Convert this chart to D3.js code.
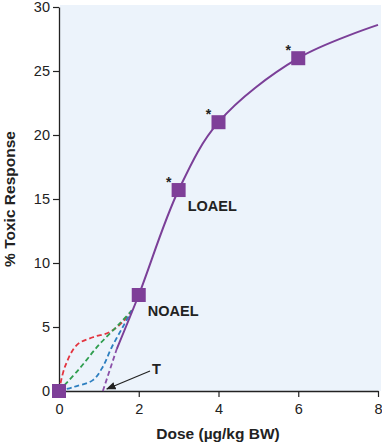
<!DOCTYPE html>
<html><head><meta charset="utf-8">
<script src="https://cdn.jsdelivr.net/npm/d3@7"></script>
<style>body{margin:0;background:#fff;} text{font-family:"Liberation Sans",Arial,sans-serif;}</style>
</head><body><svg id="c" width="382" height="443"></svg>
<script>
// Data
const doses = [0, 2, 3, 4, 6];
const responses = [0, 7.5, 15.7, 21, 26];
const significant = [false, false, true, true, true];
const curveX = [1.45, 2, 3, 4, 6, 8];
const curveY = [3.3, 7.5, 15.7, 21, 26, 28.6];
const thresholdX = [1.1, 1.45];
const thresholdY = [0, 3.3];
const redX = [0, 0.15, 0.45, 0.85, 1.27, 1.6, 1.83];
const redY = [0, 1.9, 3.6, 4.2, 4.6, 5.4, 6.3];
const greenX = [0, 0.5, 1.0, 1.5, 1.83];
const greenY = [0, 1.7, 3.6, 5.2, 6.3];
const blueX = [0, 0.35, 0.85, 1.1, 1.32, 1.6, 1.83];
const blueY = [0, 0.3, 0.85, 1.9, 3.4, 5.0, 6.3];
const xTicks = [0, 2, 4, 6, 8];
const yTicks = [0, 5, 10, 15, 20, 25, 30];
const labels = [{t:"NOAEL", x:2, y:7.5}, {t:"LOAEL", x:3, y:15.7}];

const svg = d3.select("#c");
const x = d3.scaleLinear().domain([0, 8]).range([59, 378]);
const y = d3.scaleLinear().domain([0, 30]).range([391, 7]);

svg.append("rect").attr("x", 60).attr("y", 5).attr("width", 321).attr("height", 386).attr("fill", "#ecf3fb");

const xa = svg.append("g").attr("transform", "translate(0,391)")
  .call(d3.axisBottom(x).tickValues(xTicks).tickSize(6).tickPadding(7).tickSizeOuter(0));
const ya = svg.append("g").attr("transform", "translate(59,0)")
  .call(d3.axisLeft(y).tickValues(yTicks).tickSize(6).tickPadding(3).tickSizeOuter(0));
[xa, ya].forEach(a => {
  a.select(".domain").attr("stroke", "#222").attr("stroke-width", 1.3);
  a.selectAll(".tick line").attr("stroke", "#222").attr("stroke-width", 1.2);
  a.selectAll("text").attr("font-size", 14.5).attr("fill", "#222").attr("font-family", "Liberation Sans, Arial, sans-serif");
});

const line = d3.line().x(d => x(d[0])).y(d => y(d[1]));
const zip = (a, b) => a.map((v, i) => [v, b[i]]);

function dashed(xs, ys, color) {
  svg.append("path").attr("d", line.curve(d3.curveCatmullRom)(zip(xs, ys)))
    .attr("fill", "none").attr("stroke", color).attr("stroke-width", 1.8).attr("stroke-dasharray", "5,3");
}
dashed(redX, redY, "#e3343f");
dashed(greenX, greenY, "#2f9e4f");
dashed(blueX, blueY, "#2d7fc0");
dashed(thresholdX, thresholdY, "#8a4fa8");

svg.append("path").attr("d", line.curve(d3.curveCatmullRom)(zip(curveX, curveY)))
  .attr("fill", "none").attr("stroke", "#7b3f98").attr("stroke-width", 2);

const s = 14;
svg.selectAll("rect.pt").data(zip(doses, responses)).enter().append("rect")
  .attr("x", d => x(d[0]) - s/2).attr("y", d => y(d[1]) - s/2)
  .attr("width", s).attr("height", s).attr("fill", "#7e3f98");

svg.selectAll("text.star").data(zip(doses, responses).filter((d, i) => significant[i])).enter()
  .append("text").attr("x", d => x(d[0]) - 10).attr("y", d => y(d[1]) - 3)
  .attr("text-anchor", "middle").attr("font-size", 14).attr("font-weight", "bold").attr("fill", "#222").text("*");

svg.selectAll("text.lab").data(labels).enter().append("text")
  .attr("x", d => x(d.x) + 9).attr("y", d => y(d.y) + 21)
  .attr("font-size", 14.5).attr("font-weight", "bold").attr("fill", "#222").text(d => d.t);

svg.append("defs").append("marker").attr("id", "ah").attr("viewBox", "0 0 10 10")
  .attr("refX", 9).attr("refY", 5).attr("markerWidth", 8).attr("markerHeight", 8).attr("orient", "auto")
  .append("path").attr("d", "M0,1 L10,5 L0,9 Z").attr("fill", "#222");
svg.append("line").attr("x1", 150).attr("y1", 371).attr("x2", x(1.1) + 4).attr("y2", 389)
  .attr("stroke", "#222").attr("stroke-width", 1.2).attr("marker-end", "url(#ah)");
svg.append("text").attr("x", 152).attr("y", 374).attr("font-size", 14.5).attr("font-weight", "bold").attr("fill", "#222").text("T");

svg.append("text").attr("x", 218).attr("y", 439).attr("text-anchor", "middle")
  .attr("font-size", 15.5).attr("font-weight", "bold").attr("fill", "#222").text("Dose (µg/kg BW)");
svg.append("text").attr("transform", "translate(15,199) rotate(-90)").attr("text-anchor", "middle")
  .attr("font-size", 15.5).attr("font-weight", "bold").attr("fill", "#222").text("% Toxic Response");
</script></body></html>
